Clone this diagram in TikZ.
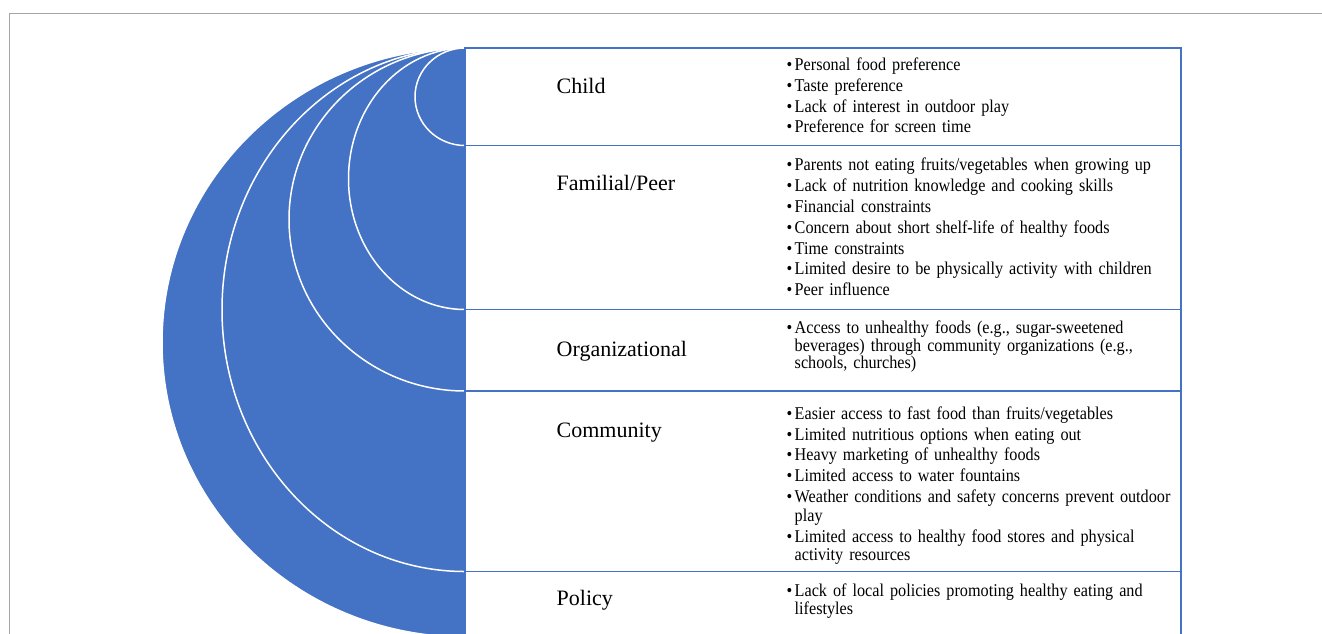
\documentclass[tikz,border=0pt]{standalone}
\usepackage{fontspec}
\setmainfont{Liberation Serif}
\newfontfamily\itemfont{Liberation Serif}[FakeStretch=0.9]
\usepackage{xcolor}
\usepackage{tikz}
\usetikzlibrary{positioning,calc}

\definecolor{ringblue}{RGB}{68,114,196}
\definecolor{framegray}{RGB}{165,165,165}

\tikzset{
  ring/.style={fill=ringblue, draw=white, line width=1.5pt},
  rowline/.style={draw=ringblue, line width=1.6pt},
  levellabel/.style={anchor=base west, inner sep=0pt, font=\fontsize{22}{26}\selectfont},
  itemlist/.style={anchor=north west, inner sep=0pt, text width=400pt, align=left,
    font=\itemfont\fontsize{18}{17.6}\selectfont}
}
\newcommand{\bl}{\makebox[8pt][l]{•}}
\newcommand{\hg}{\hspace*{8pt}}
\newcommand{\fl}{\rule{0pt}{13pt}}

\begin{document}
\begin{tikzpicture}[x=1pt,y=1pt]
    \clip (0,0) rectangle (1322,-633);
    \fill[white] (0,0) rectangle (1322,-633);

    % outer frame
    \draw[framegray, line width=1.5pt] (9.5,-640) -- (9.5,-13.5) -- (1330,-13.5);

    % nested half ellipses, outer first
    \draw[ring] (465,-48) arc[start angle=90, end angle=270, x radius=303pt, y radius=294.5pt] -- cycle; % Policy
    \draw[ring] (465,-48) arc[start angle=90, end angle=270, x radius=243pt, y radius=261.75pt] -- cycle; % Community
    \draw[ring] (465,-48) arc[start angle=90, end angle=270, x radius=176pt, y radius=171.5pt] -- cycle; % Organizational
    \draw[ring] (465,-48) arc[start angle=90, end angle=270, x radius=116.5pt, y radius=130.75pt] -- cycle; % Familial/Peer
    \draw[ring] (465,-48) arc[start angle=90, end angle=270, x radius=50pt, y radius=48.75pt] -- cycle; % Child

    % table
    \draw[rowline] (465,-640) -- (465,-48) -- (1181,-48) -- (1181,-640);
    \draw[rowline] (465,-145.5) -- (1181,-145.5);
    \draw[rowline] (465,-309.5) -- (1181,-309.5);
    \draw[rowline] (465,-391) -- (1181,-391);
    \draw[rowline] (465,-571.5) -- (1181,-571.5);

    % level names
    \node[levellabel] (lchild) at (556.5,-93.5) {Child};
    \node[levellabel] (lfam) at (556.5,-190.7) {Familial/Peer};
    \node[levellabel] (lorg) at (556.5,-356) {Organizational};
    \node[levellabel] (lcom) at (556.5,-437.3) {Community};
    \node[levellabel] (lpol) at (556.5,-605) {Policy};

    % Child
    \node[itemlist] (ichild) at (786.5,-57.5) {\fl\bl Personal food preference\\[3.1pt]
      \bl Taste preference\\[3.1pt]
      \bl Lack of interest in outdoor play\\[3.1pt]
      \bl Preference for screen time};

    % Familial/Peer
    \node[itemlist] (ifam) at (786.5,-157.7) {\fl\bl Parents not eating fruits/vegetables when growing up\\[3.2pt]
      \bl Lack of nutrition knowledge and cooking skills\\[3.2pt]
      \bl Financial constraints\\[3.2pt]
      \bl Concern about short shelf-life of healthy foods\\[3.2pt]
      \bl Time constraints\\[3.2pt]
      \bl Limited desire to be physically activity with children\\[3.2pt]
      \bl Peer influence};

    % Organizational
    \node[itemlist] (iorg) at (786.5,-320.3) {\fl\bl Access to unhealthy foods (e.g., sugar-sweetened\\
      \hg beverages) through community organizations (e.g.,\\
      \hg schools, churches)};

    % Community
    \node[itemlist] (icom) at (786.5,-406.3) {\fl\bl Easier access to fast food than fruits/vegetables\\[3.1pt]
      \bl Limited nutritious options when eating out\\[3.1pt]
      \bl Heavy marketing of unhealthy foods\\[3.1pt]
      \bl Limited access to water fountains\\[3.1pt]
      \bl Weather conditions and safety concerns prevent outdoor\\[1.8pt]
      \hg play\\[3.1pt]
      \bl Limited access to healthy food stores and physical\\
      \hg activity resources};

    % Policy
    \node[itemlist] (ipol) at (786.5,-583.7) {\fl\bl Lack of local policies promoting healthy eating and\\
      \hg lifestyles};
\end{tikzpicture}
\end{document}
